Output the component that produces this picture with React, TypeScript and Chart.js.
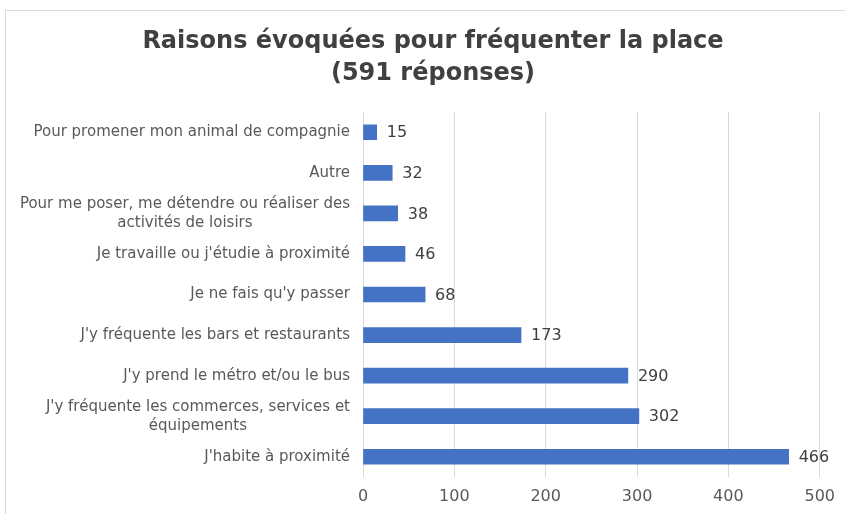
import React, { useEffect, useRef } from "react";
import { Chart, registerables } from "chart.js";

Chart.register(...registerables);

const titleLines = ["Raisons évoquées pour fréquenter la place", "(591 réponses)"];
const categories: (string | string[])[] = [
  "Pour promener mon animal de compagnie",
  "Autre",
  ["Pour me poser, me détendre ou réaliser des", "activités de loisirs"],
  "Je travaille ou j'étudie à proximité",
  "Je ne fais qu'y passer",
  "J'y fréquente les bars et restaurants",
  "J'y prend le métro et/ou le bus",
  ["J'y fréquente les commerces, services et", "équipements"],
  "J'habite à proximité",
];
const values = [15, 32, 38, 46, 68, 173, 290, 302, 466];
const axisMin = 0;
const axisMax = 500;
const axisStep = 100;

const FONT = "'DejaVu Sans', sans-serif";

const framePlugin = {
  id: "frame",
  beforeDraw(chart: any) {
    const ctx = chart.ctx;
    ctx.save();
    ctx.fillStyle = "#ffffff";
    ctx.fillRect(0, 0, chart.width, chart.height);
    ctx.strokeStyle = "#d9d9d9";
    ctx.lineWidth = 1;
    ctx.strokeRect(5.5, 10.5, chart.width + 20, chart.height + 20);
    ctx.fillStyle = "#404040";
    ctx.font = `bold 24px ${FONT}`;
    ctx.textAlign = "center";
    ctx.textBaseline = "middle";
    ctx.fillText(titleLines[0], 433, 42);
    ctx.fillText(titleLines[1], 433, 74);
    ctx.restore();
  },
};

const categoryLabelPlugin = {
  id: "categoryLabels",
  afterDraw(chart: any) {
    const ctx = chart.ctx;
    const yScale = chart.scales.y;
    const right = chart.chartArea.left - 13;
    const lineH = 19;
    ctx.save();
    ctx.fillStyle = "#595959";
    ctx.font = `15px ${FONT}`;
    ctx.textBaseline = "middle";
    categories.forEach((label, i) => {
      const y = yScale.getPixelForTick(i);
      if (Array.isArray(label)) {
        const maxW = Math.max(...label.map((l) => ctx.measureText(l).width));
        const cx = right - maxW / 2;
        ctx.textAlign = "center";
        const startY = y - ((label.length - 1) * lineH) / 2;
        label.forEach((line, j) => ctx.fillText(line, cx, startY + j * lineH));
      } else {
        ctx.textAlign = "right";
        ctx.fillText(label, right, y);
      }
    });
    ctx.restore();
  },
};

const valueLabelPlugin = {
  id: "valueLabels",
  afterDatasetsDraw(chart: any) {
    const ctx = chart.ctx;
    const meta = chart.getDatasetMeta(0);
    ctx.save();
    ctx.fillStyle = "#404040";
    ctx.font = `16px ${FONT}`;
    ctx.textAlign = "left";
    ctx.textBaseline = "middle";
    meta.data.forEach((bar: any, i: number) => {
      ctx.fillText(String(values[i]), bar.x + 10, bar.y + 1);
    });
    ctx.restore();
  },
};

export default function App() {
  const ref = useRef<HTMLCanvasElement>(null);
  useEffect(() => {
    document.body.style.margin = "0";
    const chart = new Chart(ref.current!, {
      type: "bar",
      data: {
        labels: categories,
        datasets: [
          {
            data: values,
            backgroundColor: "#4472C4",
            barThickness: 15,
          },
        ],
      },
      options: {
        indexAxis: "y",
        animation: false,
        responsive: false,
        layout: { padding: { top: 112, right: 23, bottom: 0, left: 0 } },
        plugins: {
          legend: { display: false },
          title: { display: false },
          tooltip: { enabled: false },
        },
        scales: {
          x: {
            min: axisMin,
            max: axisMax,
            ticks: {
              stepSize: axisStep,
              color: "#595959",
              font: { family: FONT, size: 16 },
              padding: 10,
            },
            grid: { color: "#d9d9d9", drawTicks: false },
            border: { display: false },
            afterFit(scale: any) {
              scale.height = 37;
            },
          },
          y: {
            ticks: { display: false, autoSkip: false },
            grid: { display: false, drawTicks: false },
            border: { display: false },
            afterFit(scale: any) {
              scale.width = 363;
            },
          },
        },
      },
      plugins: [framePlugin, categoryLabelPlugin, valueLabelPlugin],
    });
    return () => chart.destroy();
  }, []);
  return (
    <div style={{ position: "relative", width: 845, height: 514 }}>
      <canvas ref={ref} width={845} height={514} style={{ display: "block" }} />
    </div>
  );
}
